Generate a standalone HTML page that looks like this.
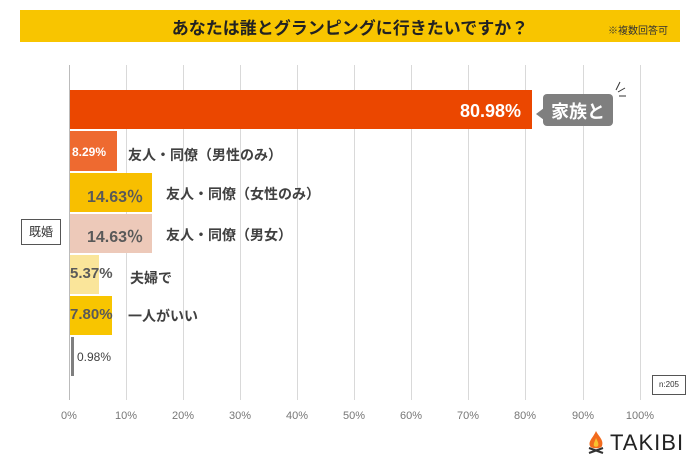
<!DOCTYPE html><html><head><meta charset="utf-8"><style>
body{margin:0;width:700px;height:465px;background:#fff;position:relative;overflow:hidden;font-family:"Liberation Sans","Noto Sans CJK JP",sans-serif}
.a{position:absolute}
.g{position:absolute;top:65px;height:335px;width:1px;background:#d9d9d9}
.t{position:absolute;top:410px;font-size:11px;color:#777;width:40px;margin-left:-20px;text-align:center}
.bar{position:absolute;left:70px}
.lab{position:absolute;font-size:14px;color:#404040;font-weight:bold;white-space:nowrap}
.v{position:absolute;font-weight:bold;color:#595959;white-space:nowrap}
</style></head><body>
<div class="a" style="left:20px;top:10px;width:660px;height:32px;background:#F8C500"></div>
<div class="a" style="left:0;width:700px;top:14px;text-align:center;font-size:17px;font-weight:bold;color:#222">あなたは誰とグランピングに行きたいですか？</div>
<div class="a" style="left:608px;top:22px;font-size:10px;color:#333">※複数回答可</div>
<div class="g" style="left:69px;background:#bbb"></div><div class="g" style="left:126px"></div><div class="g" style="left:183px"></div><div class="g" style="left:240px"></div><div class="g" style="left:297px"></div><div class="g" style="left:354px"></div><div class="g" style="left:411px"></div><div class="g" style="left:468px"></div><div class="g" style="left:525px"></div><div class="g" style="left:583px"></div><div class="g" style="left:640px"></div>
<div class="t" style="left:69px">0%</div><div class="t" style="left:126px">10%</div><div class="t" style="left:183px">20%</div><div class="t" style="left:240px">30%</div><div class="t" style="left:297px">40%</div><div class="t" style="left:354px">50%</div><div class="t" style="left:411px">60%</div><div class="t" style="left:468px">70%</div><div class="t" style="left:525px">80%</div><div class="t" style="left:583px">90%</div><div class="t" style="left:640px">100%</div>
<div class="bar" style="top:90px;height:39px;width:462px;background:#EB4700"></div>
<div class="v" style="left:460px;top:101px;font-size:18px;color:#fff">80.98%</div>
<div class="a" style="left:543px;top:94px;width:70px;height:32px;background:#7f7f7f;border-radius:4px"></div>
<div class="a" style="left:536px;top:108px;width:0;height:0;border-top:6px solid transparent;border-bottom:6px solid transparent;border-right:8px solid #7f7f7f"></div>
<div class="a" style="left:551px;top:98px;font-size:18px;font-weight:bold;color:#fff">家族と</div>
<svg class="a" style="left:612px;top:80px" width="16" height="20"><path d="M4 10L8 2M6 12L13 8M7 16L14 16" stroke="#333" stroke-width="1"/></svg>
<div class="bar" style="top:131px;height:40px;width:47px;background:#EE6A30"></div>
<div class="v" style="left:72px;top:145px;font-size:12px;color:#fff">8.29%</div>
<div class="lab" style="left:128px;top:145px">友人・同僚（男性のみ）</div>
<div class="bar" style="top:173px;height:39px;width:82px;background:#F8BF00"></div>
<div class="v" style="left:87px;top:183px;font-size:16px">14.63％</div>
<div class="lab" style="left:166px;top:184px">友人・同僚（女性のみ）</div>
<div class="bar" style="top:214px;height:39px;width:82px;background:#EDC9B9"></div>
<div class="v" style="left:87px;top:223px;font-size:16px">14.63％</div>
<div class="lab" style="left:166px;top:225px">友人・同僚（男女）</div>
<div class="bar" style="top:255px;height:39px;width:29px;background:#FAE59A"></div>
<div class="v" style="left:70px;top:265px;font-size:15px">5.37%</div>
<div class="lab" style="left:130px;top:268px">夫婦で</div>
<div class="bar" style="top:296px;height:39px;width:42px;background:#F8C500"></div>
<div class="v" style="left:70px;top:306px;font-size:15px">7.80%</div>
<div class="lab" style="left:128px;top:306px">一人がいい</div>
<div class="bar" style="top:337px;height:39px;width:3px;left:71px;background:#7f7f7f"></div>
<div class="a" style="left:77px;top:350px;font-size:12px;color:#404040">0.98%</div>
<div class="a" style="left:21px;top:219px;width:40px;height:26px;border:1px solid #555;box-sizing:border-box;font-size:12px;text-align:center;line-height:24px;color:#333">既婚</div>
<div class="a" style="left:652px;top:375px;width:34px;height:20px;border:1px solid #555;box-sizing:border-box;font-size:8px;text-align:center;line-height:18px;color:#333">n:205</div>
<svg class="a" style="left:585px;top:430px" width="22" height="24"><path d="M11 1C14 7 19 10 17 16C16 19 6 19 5 16C3 11 8 8 11 1Z" fill="#F26B1D"/><path d="M11 8C13 12 14 14 13 16C12 17 10 17 9 16C8 14 10 11 11 8Z" fill="#F9C12E"/><path d="M4 18L18 23M18 18L4 23" stroke="#333" stroke-width="2"/></svg>
<div class="a" style="left:610px;top:430px;font-size:22px;color:#222;letter-spacing:1px">TAKIBI</div>
</body></html>
